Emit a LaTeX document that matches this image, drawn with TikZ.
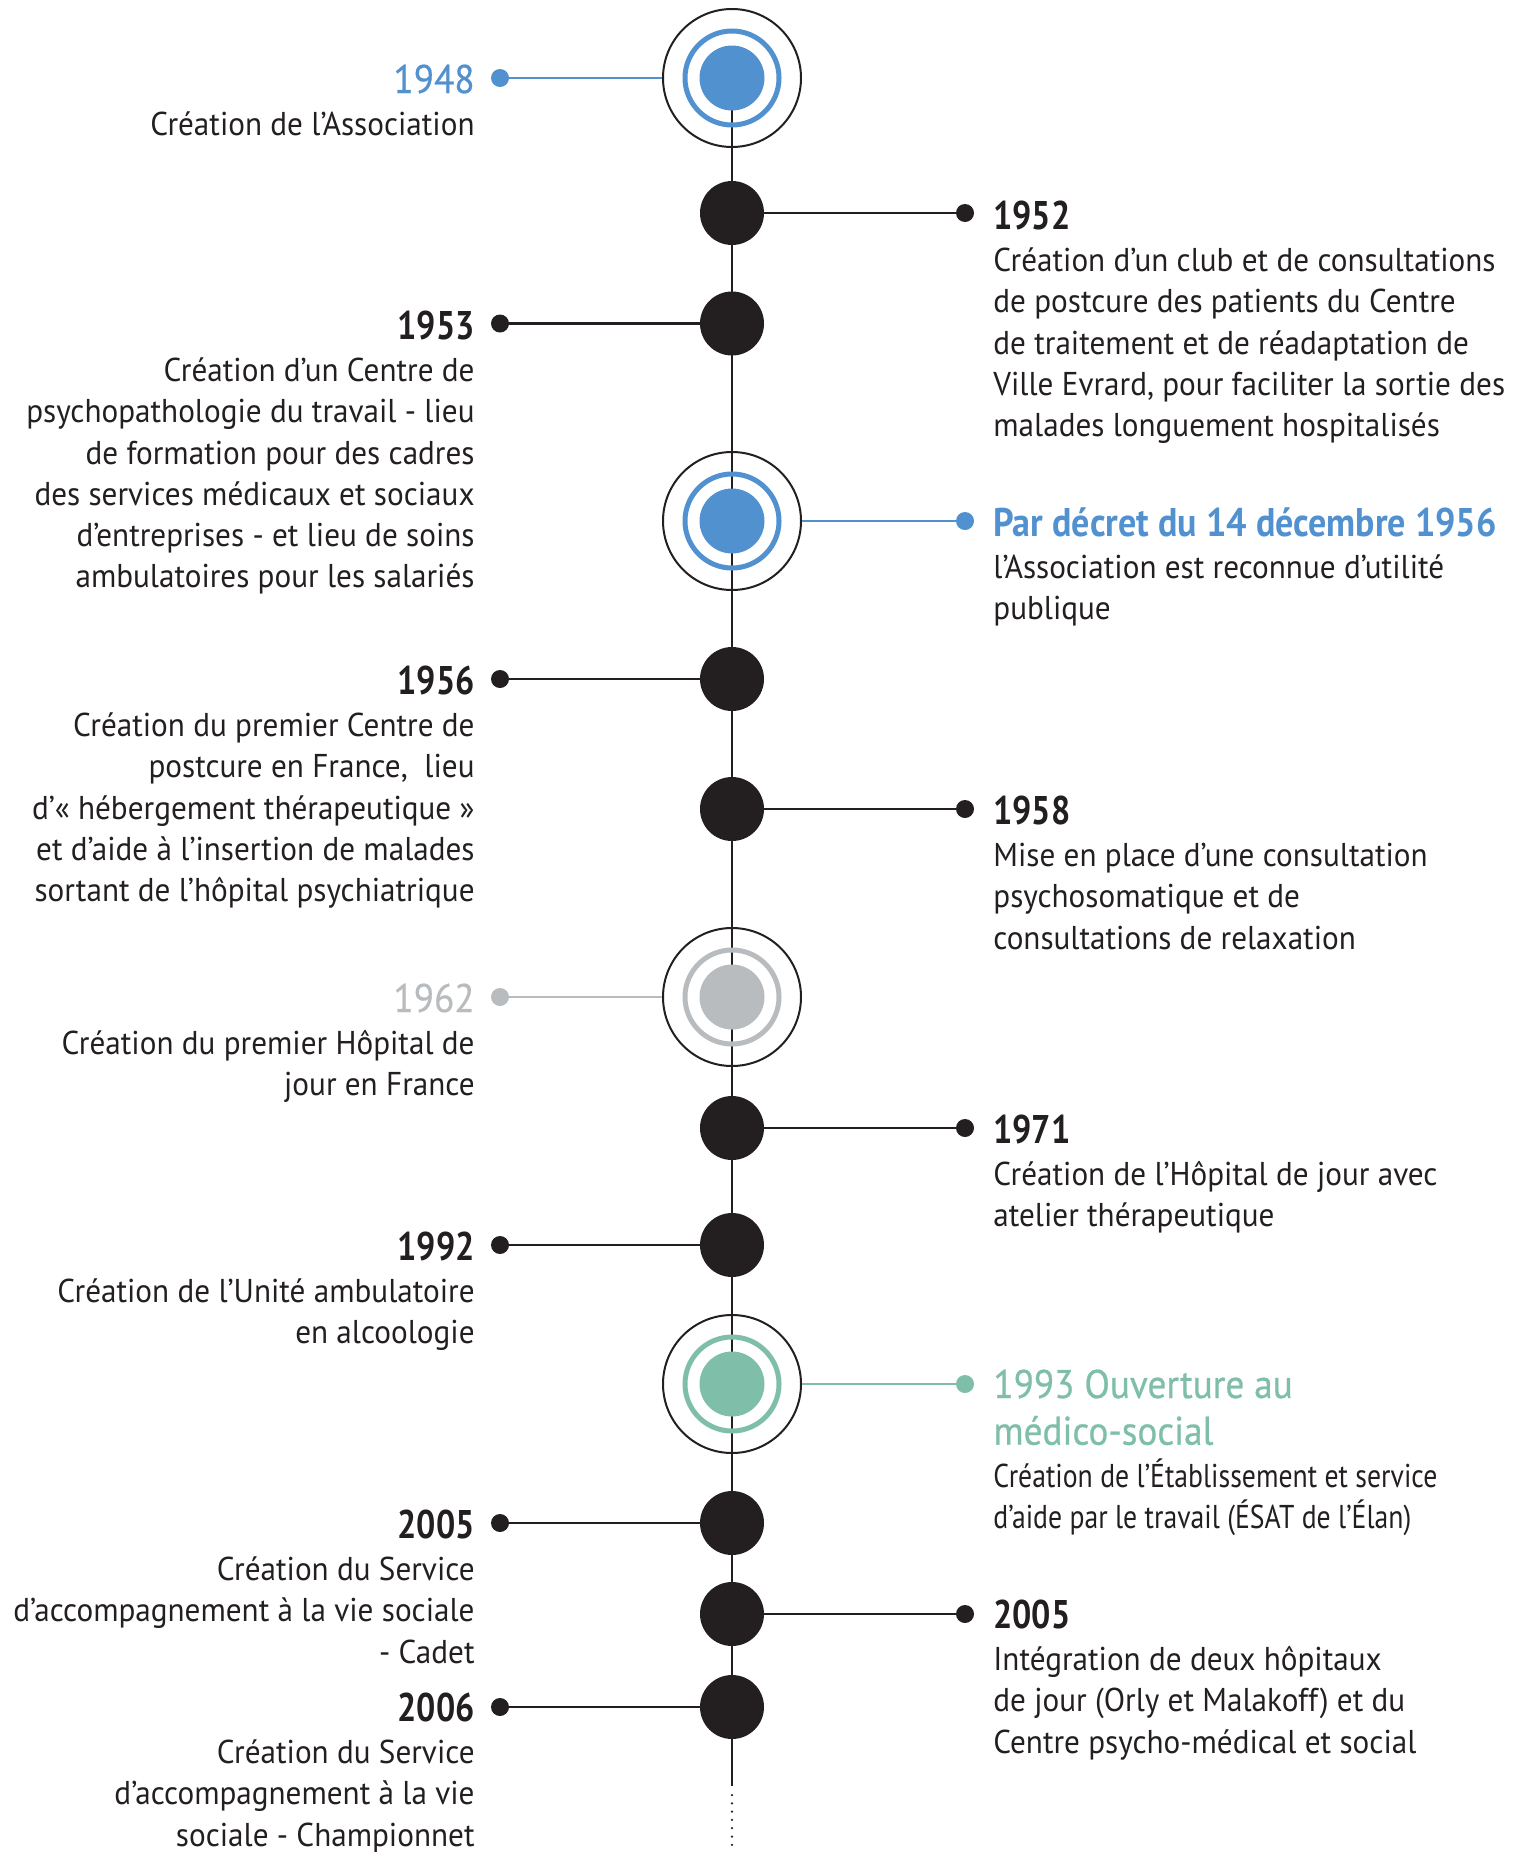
\documentclass[tikz,border=0pt]{standalone}
\usepackage{fontspec}
\setmainfont{PT Sans}[FakeStretch=0.945]
\newfontfamily\yearfam{PT Sans}[FakeStretch=0.85]
\newfontfamily\titlefam{PT Sans}[FakeStretch=0.93, FakeBold=0.6]
\newfontfamily\btitlefam{PT Sans}[FakeStretch=0.9]
\newfontfamily\condfam{PT Sans}[FakeStretch=0.84]
\definecolor{ink}{HTML}{231F20}
\definecolor{tlblue}{HTML}{5291CF}
\definecolor{tlgrey}{HTML}{B9BCBF}
\definecolor{tlgreen}{HTML}{7FBEA8}
\pgfdeclarelayer{bg}
\pgfsetlayers{bg,main}
\newcommand\byr[1]{{\yearfam\bfseries\fontsize{20}{20.6}\selectfont #1}}
\newcommand\ttl[1]{{\titlefam\fontsize{20}{20.6}\selectfont #1}}
\newcommand\bttl[1]{{\btitlefam\bfseries\fontsize{20}{20.6}\selectfont #1}}
\tikzset{
  blackdisc/.style={circle, fill=ink, minimum size=32pt, inner sep=0pt},
  outerring/.style={circle, draw=ink, line width=1pt, minimum size=69pt, inner sep=0pt},
  colring/.style={circle, line width=2.5pt, minimum size=47pt, inner sep=0pt},
  coldisc/.style={circle, minimum size=32.5pt, inner sep=0pt},
  enddot/.style={circle, minimum size=9pt, inner sep=0pt},
  conn/.style={line width=1.3pt},
  spine/.style={draw=ink, line width=1.25pt},
  lt/.style={anchor=base east, inner sep=0pt, text=ink, font=\fontsize{16.5}{20.6}\selectfont},
  rt/.style={anchor=base west, inner sep=0pt, text=ink, font=\fontsize{16.5}{20.6}\selectfont},
}
\newcommand\bigmark[3]{%
  \node[outerring] (#1) at (#2) {};
  \node[colring, draw=#3] (#1r) at (#2) {};
  \node[coldisc, fill=#3] (#1d) at (#2) {};
}
\begin{document}
\begin{tikzpicture}[x=0.5pt, y=-0.5pt]
\useasboundingbox (0,0) rectangle (1515,1852);

% spine markers
\bigmark{c1948}{732,78}{tlblue}
\node[blackdisc] (m1952) at (732,213) {};
\node[blackdisc] (m1953) at (732,323.5) {};
\bigmark{c1956}{732,521}{tlblue}
\node[blackdisc] (m1956) at (732,679) {};
\node[blackdisc] (m1958) at (732,809) {};
\bigmark{c1962}{732,997}{tlgrey}
\node[blackdisc] (m1971) at (732,1128) {};
\node[blackdisc] (m1992) at (732,1245) {};
\bigmark{c1993}{732,1384}{tlgreen}
\node[blackdisc] (m2005a) at (732,1523) {};
\node[blackdisc] (m2005b) at (732,1614) {};
\node[blackdisc] (m2006) at (732,1707) {};
\coordinate (spineend) at (732,1786);
\coordinate (dotstart) at (732,1795);
\coordinate (bottom) at (732,1852);

% end dots
\node[enddot, fill=tlblue] (d1948) at (500,78) {};
\node[enddot, fill=ink] (d1952) at (965,213) {};
\node[enddot, fill=ink] (d1953) at (500,323.5) {};
\node[enddot, fill=tlblue] (d1956a) at (965,521) {};
\node[enddot, fill=ink] (d1956) at (500,679) {};
\node[enddot, fill=ink] (d1958) at (965,809) {};
\node[enddot, fill=tlgrey] (d1962) at (500,997) {};
\node[enddot, fill=ink] (d1971) at (965,1128) {};
\node[enddot, fill=ink] (d1992) at (500,1245) {};
\node[enddot, fill=tlgreen] (d1993) at (965,1384) {};
\node[enddot, fill=ink] (d2005a) at (500,1523) {};
\node[enddot, fill=ink] (d2005b) at (965,1614) {};
\node[enddot, fill=ink] (d2006) at (500,1707) {};

% spine
\begin{pgfonlayer}{bg}
\draw[spine] (c1948.center) -- (spineend);
\draw[ink, line width=1.25pt, line cap=round, dash pattern=on 0pt off 4.15pt] (dotstart) -- (bottom);
\end{pgfonlayer}

% connectors
\draw[conn, tlblue] (d1948) -- (c1948);
\draw[conn, ink] (d1952) -- (m1952);
\draw[conn, ink] (d1953) -- (m1953);
\draw[conn, tlblue] (d1956a) -- (c1956);
\draw[conn, ink] (d1956) -- (m1956);
\draw[conn, ink] (d1958) -- (m1958);
\draw[conn, tlgrey] (d1962) -- (c1962);
\draw[conn, ink] (d1971) -- (m1971);
\draw[conn, ink] (d1992) -- (m1992);
\draw[conn, tlgreen] (d1993) -- (c1993);
\draw[conn, ink] (d2005a) -- (m2005a);
\draw[conn, ink] (d2005b) -- (m2005b);
\draw[conn, ink] (d2006) -- (m2006);

% left texts
\node[lt] (t1948) at (475,93) {\begin{tabular}[t]{@{}r@{}}\ttl{\color{tlblue}1948}\\[0.75pt]
Création de l’Association\end{tabular}};
\node[lt] (t1953) at (475,339) {\begin{tabular}[t]{@{}r@{}}\byr{1953}\\[0.75pt]
Création d’un Centre de\\
psychopathologie du travail - lieu\\
de formation pour des cadres\\
des services médicaux et sociaux\\
d’entreprises - et lieu de soins\\
ambulatoires pour les salariés\end{tabular}};
\node[lt] (t1956) at (475,694) {\begin{tabular}[t]{@{}r@{}}\byr{1956}\\[0.75pt]
Création du premier Centre de\\
postcure en France,\ \ lieu\\
d’« hébergement thérapeutique »\\
et d’aide à l’insertion de malades\\
sortant de l’hôpital psychiatrique\end{tabular}};
\node[lt] (t1962) at (475,1012) {\begin{tabular}[t]{@{}r@{}}\ttl{\color{tlgrey}1962}\\[0.75pt]
Création du premier Hôpital de\\
jour en France\end{tabular}};
\node[lt] (t1992) at (475,1260) {\begin{tabular}[t]{@{}r@{}}\byr{1992}\\[0.75pt]
Création de l’Unité ambulatoire\\
en alcoologie\end{tabular}};
\node[lt] (t2005a) at (475,1538) {\begin{tabular}[t]{@{}r@{}}\byr{2005}\\[0.75pt]
Création du Service\\
d’accompagnement à la vie sociale\\
- Cadet\end{tabular}};
\node[lt] (t2006) at (475,1721) {\begin{tabular}[t]{@{}r@{}}\byr{2006}\\[0.75pt]
Création du Service\\
d’accompagnement à la vie\\
sociale - Championnet\end{tabular}};

% right texts
\node[rt] (t1952) at (993,229) {\begin{tabular}[t]{@{}l@{}}\byr{1952}\\[0.75pt]
Création d’un club et de consultations\\
de postcure des patients du Centre\\
de traitement et de réadaptation de\\
Ville Evrard, pour faciliter la sortie des\\
malades longuement hospitalisés\end{tabular}};
\node[rt] (t1956a) at (993,536) {\begin{tabular}[t]{@{}l@{}}\bttl{\color{tlblue}Par décret du 14 décembre 1956}\\[0.75pt]
l’Association est reconnue d’utilité\\
publique\end{tabular}};
\node[rt] (t1958) at (993,824) {\begin{tabular}[t]{@{}l@{}}\byr{1958}\\[0.75pt]
Mise en place d’une consultation\\
psychosomatique et de\\
consultations de relaxation\end{tabular}};
\node[rt] (t1971) at (993,1143) {\begin{tabular}[t]{@{}l@{}}\byr{1971}\\[0.75pt]
Création de l’Hôpital de jour avec\\
atelier thérapeutique\end{tabular}};
\node[rt] (t1993) at (993,1398) {\begin{tabular}[t]{@{}l@{}}\ttl{\color{tlgreen}1993 Ouverture au}\\[2.75pt]
\ttl{\color{tlgreen}médico-social}\\[0.75pt]
{\condfam Création de l’Établissement et service}\\
{\condfam d’aide par le travail (ÉSAT de l’Élan)}\end{tabular}};
\node[rt] (t2005b) at (993,1628) {\begin{tabular}[t]{@{}l@{}}\byr{2005}\\[0.75pt]
Intégration de deux hôpitaux\\
de jour (Orly et Malakoff) et du\\
Centre psycho-médical et social\end{tabular}};
\end{tikzpicture}
\end{document}
